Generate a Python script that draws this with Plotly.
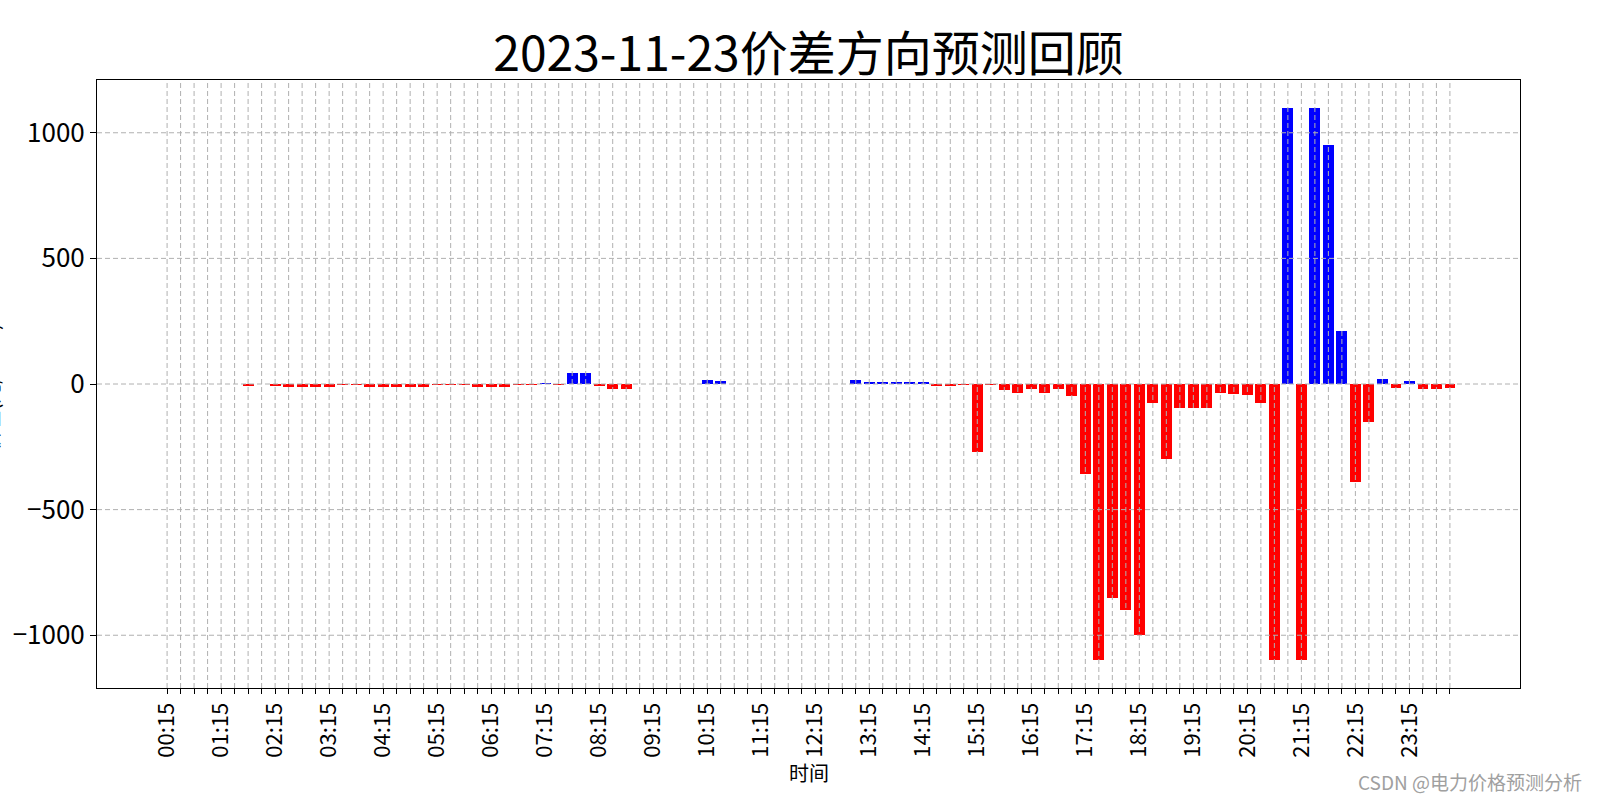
import plotly.graph_objects as go

# ---- data ----
times = []
for k in range(1, 97):
    m = k * 15
    times.append(f"{m // 60:02d}:{m % 60:02d}")

values = [
    0, 0, 0, 0, 0, 0, -7, 0, -5, -11, -11, -11, -11, -2, -2, -11,
    -11, -11, -11, -11, -2, -2, -2, -10, -10, -10, -2, -2, 4, -3, 45, 45,
    -5, -21, -21, 0, 0, 0, 0, 0, 17, 13, 0, 0, 0, 0, 0, 0,
    0, 0, 0, 17, 5, 5, 5, 5, 5, -5, -5, -2, -270, -2, -25, -37,
    -21, -37, -21, -49, -357, -1100, -852, -900, -1000, -77, -297, -97, -97, -97, -37, -40,
    -44, -77, -1100, 1100, -1100, 1100, 953, 211, -390, -150, 20, -16, 12, -20, -20, -16,
]

title_text = "2023-11-23价差方向预测回顾"
x_title = "时间"
y_title = "价差(元/MWh)"
watermark = "CSDN @电力价格预测分析"
y_ticks = [-1000, -500, 0, 500, 1000]

# ---- figure ----
idx = list(range(len(times)))
colors = ["#0000ff" if v > 0 else "#ff0000" for v in values]
tick_text = [t if i % 4 == 0 else "" for i, t in enumerate(times)]

font_family = "Noto Sans CJK SC, Noto Sans, sans-serif"

fig = go.Figure()
fig.add_trace(go.Bar(x=idx, y=values, marker=dict(color=colors, line=dict(width=0)),
                     width=0.8, showlegend=False))

n = len(times)
lo = -0.4 - 0.05 * (n - 1 + 0.8)
hi = n - 1 + 0.4 + 0.05 * (n - 1 + 0.8)
vmax = max(abs(v) for v in values)
yr = vmax * 1.1

grid_style = dict(color="#b0b0b0", width=1, dash="5px,3px")
shapes = []
for i in idx:
    shapes.append(dict(type="line", xref="x", yref="paper", x0=i, x1=i, y0=0, y1=1,
                       line=grid_style, layer="above"))
for yv in y_ticks:
    shapes.append(dict(type="line", xref="paper", yref="y", x0=0, x1=1, y0=yv, y1=yv,
                       line=grid_style, layer="above"))

fig.update_layout(
    width=1600, height=800,
    margin=dict(l=97, r=80, t=80, b=112),
    paper_bgcolor="white", plot_bgcolor="white",
    font=dict(family=font_family, color="black"),
    bargap=0,
    shapes=shapes,
    title=dict(text=title_text, x=(97 + 1520) / 2 / 1600, xanchor="center",
               y=1 - 54 / 800, yanchor="middle",
               font=dict(size=48, family=font_family, color="black")),
    annotations=[
        dict(text=x_title, xref="paper", yref="paper", x=0.5, y=-(772 - 687.8) / 608.2,
             xanchor="center", yanchor="middle", showarrow=False,
             font=dict(size=20, family=font_family, color="black")),
        dict(text=y_title, xref="paper", yref="paper", x=-(97 - 7) / 1423, y=0.495,
             xanchor="right", yanchor="middle", textangle=-90, showarrow=False,
             font=dict(size=20, family=font_family, color="black")),
        dict(text=watermark, xref="paper", yref="paper", x=(1584 - 97) / 1423,
             y=-(781 - 687.8) / 608.2, xanchor="right", yanchor="middle", showarrow=False,
             font=dict(size=19, family=font_family, color="#a0a0a0")),
    ],
)

fig.update_xaxes(
    range=[lo, hi], tickmode="array", tickvals=idx, ticktext=tick_text,
    tickangle=-90, ticks="outside", ticklen=5, tickwidth=1, tickcolor="black",
    tickfont=dict(size=22, family=font_family, color="black"),
    showgrid=False, zeroline=False,
    showline=True, linecolor="black", linewidth=1, mirror=True,
)
fig.update_yaxes(
    range=[-yr, yr], tickmode="array", tickvals=y_ticks,
    ticks="outside", ticklen=6, tickwidth=1, tickcolor="black",
    tickfont=dict(size=26, family=font_family, color="black"),
    showgrid=False, zeroline=False,
    showline=True, linecolor="black", linewidth=1, mirror=True,
)

fig.write_html("out.html")
